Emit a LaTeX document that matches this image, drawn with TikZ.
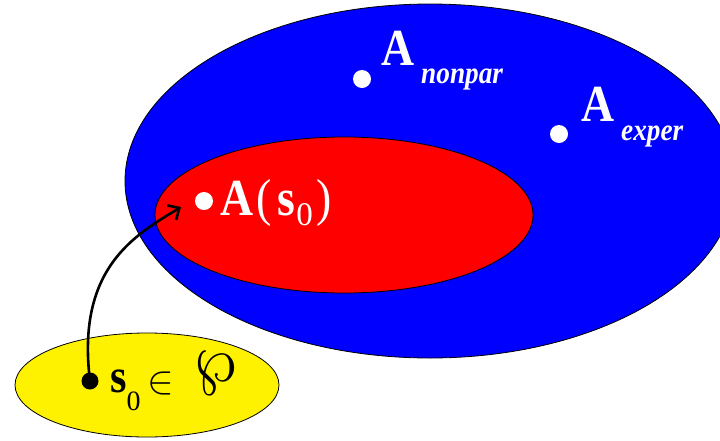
\documentclass[tikz,border=0pt]{standalone}
\usepackage{fontspec}
\setmainfont{Liberation Serif}[FakeStretch=0.88]
\newfontfamily\digitfont{Liberation Serif}
\usetikzlibrary{shapes.geometric,arrows.meta}
\begin{document}
\begin{tikzpicture}[x=1pt,y=-1pt,
  region/.style={ellipse, draw=black, line width=0.8pt, inner sep=0pt},
  wdot/.style={circle, fill=white, inner sep=0pt, minimum size=18pt},
  bdot/.style={circle, fill=black, inner sep=0pt, minimum size=17pt},
  lbl/.style={inner sep=0pt, anchor=base west},
  bigA/.style={lbl, text=white, font=\bfseries\fontsize{52}{52}\selectfont},
  subl/.style={lbl, text=white, font=\bfseries\itshape\fontsize{31}{31}\selectfont},
  arr/.style={line width=2.6pt, -{Straight Barb[length=9pt,width=17pt]}},
]
\useasboundingbox (0,0) rectangle (720,440);
\clip (0,0) rectangle (720,440);
\node[region, fill=blue, minimum width=610pt, minimum height=354pt] (big) at (430,181) {};
\node[region, fill=red, minimum width=378pt, minimum height=156pt] (red) at (344,215) {};
\node[region, fill=yellow, minimum width=264pt, minimum height=104pt] (yel) at (147,385) {};
% dots
\node[wdot] (d1) at (362,79) {};
\node[wdot] (d2) at (559,134) {};
\node[wdot] (d3) at (204,201) {};
\node[bdot] (d4) at (90,381) {};
% labels
\node[bigA] (A1) at (381,65) {A};
\node[subl] (n1) at (421,83) {nonpar};
\node[bigA] (A2) at (581,121) {A};
\node[subl] (n2) at (621,140) {exper};
\node[lbl, text=white, font=\fontsize{52}{52}\selectfont] (As) at (220,215)
  {\textbf{A}\kern3pt(\kern6pt\textbf{s}\kern1pt\raisebox{-10pt}{\digitfont\fontsize{33}{33}\selectfont 0}\kern4pt)};
\node[lbl, font=\fontsize{48}{48}\selectfont] (s0) at (110,392)
  {\textbf{s}\raisebox{-18pt}{\digitfont\fontsize{28}{28}\selectfont 0}};
\node[lbl] (in) at (147,393) {\scalebox{4}{$\in$}};
\node[lbl, xslant=-0.25, transform shape] (wp) at (196,381) {\scalebox{6.8}{$\wp$}};
% arrow
\coordinate (tip) at (181,207);
\draw[arr] (d4.center) .. controls (76,268) and (135,235) .. (tip);
\end{tikzpicture}
\end{document}
